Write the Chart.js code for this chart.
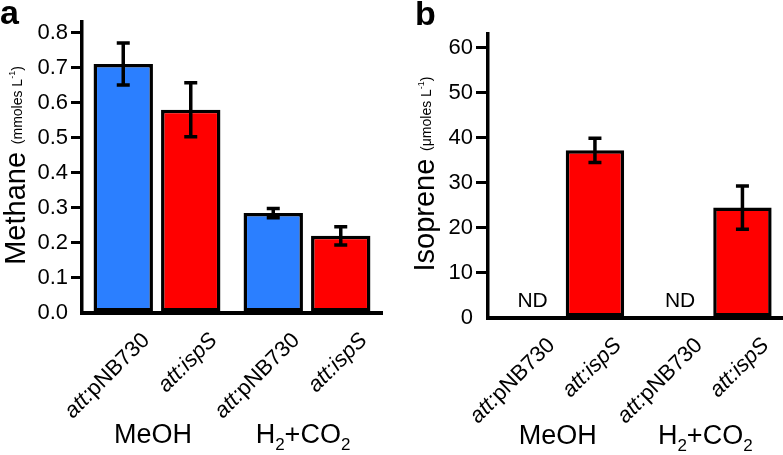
<!DOCTYPE html>
<html><head><meta charset="utf-8">
<script src="https://cdn.jsdelivr.net/npm/chart.js@4/dist/chart.umd.min.js"></script>
<style>
html,body{margin:0;padding:0;background:#fff;}
#wrap{position:relative;width:783px;height:455px;overflow:hidden;background:#fff;}
canvas{position:absolute;top:0;}
#ca{left:0;} #cb{left:390px;}
</style></head><body>
<div id="wrap"><canvas id="ca" width="390" height="455"></canvas><canvas id="cb" width="393" height="455"></canvas></div>
<script>
// ---- data ----
const groups = ['MeOH', 'H2+CO2'];
const strains = ['att:pNB730', 'att:ispS'];
const methaneCtrl = [0.71, 0.285];
const methaneCtrlErr = [0.06, 0.013];
const methaneIsp = [0.58, 0.22];
const methaneIspErr = [0.077, 0.026];
const isopreneCtrl = [0, 0];          // not detected
const isopreneCtrlND = [true, true];
const isopreneIsp = [37.2, 24.5];
const isopreneIspErr = [2.7, 4.8];
const methaneTicks = [0, 0.1, 0.2, 0.3, 0.4, 0.5, 0.6, 0.7, 0.8];
const isopreneTicks = [0, 10, 20, 30, 40, 50, 60];

const FONT = "'Liberation Sans', Arial, Helvetica, sans-serif";
const BLUE = '#2B7FFF', RED = '#FF0000';

function fontStr(s){ return (s.italic?'italic ':'') + (s.bold?'bold ':'') + s.size + 'px ' + FONT; }
function drawSegs(ctx, segs, align){
  let total = 0;
  segs.forEach(s => { ctx.font = fontStr(s); s.w = ctx.measureText(s.t).width; total += s.w; });
  let x = align === 'center' ? -total/2 : (align === 'right' ? -total : 0);
  ctx.textAlign = 'left';
  segs.forEach(s => { ctx.font = fontStr(s); ctx.fillText(s.t, x, s.dy || 0); x += s.w; });
}
function strainSegs(name, size){
  const [a, b] = name.split(':');
  return [{t: a + ':', italic: true, size}, {t: b, italic: b !== 'pNB730', size}];
}
function groupSegs(name, size, subSize){
  return name.split(/(\d)/).filter(p => p.length).map(p =>
    /\d/.test(p) ? {t: p, size: subSize, dy: 7} : {t: p, size});
}

function panelPlugin(cfg){
  return {
    id: 'panel' + cfg.letter,
    afterDatasetsDraw(chart){
      const ctx = chart.ctx, ys = chart.scales.y;
      ctx.save();
      ctx.strokeStyle = '#000'; ctx.fillStyle = '#000'; ctx.lineWidth = 3.5; ctx.lineCap = 'butt';
      chart.data.datasets.forEach((ds, di) => {
        const meta = chart.getDatasetMeta(di);
        meta.data.forEach((el, j) => {
          if (ds.err) {
            const v = ds.data[j], e = ds.err[j];
            const yt = ys.getPixelForValue(v + e), yb = ys.getPixelForValue(v - e);
            ctx.beginPath();
            ctx.moveTo(el.x, yt); ctx.lineTo(el.x, yb);
            ctx.moveTo(el.x - 6.5, yt); ctx.lineTo(el.x + 6.5, yt);
            ctx.moveTo(el.x - 6.5, yb); ctx.lineTo(el.x + 6.5, yb);
            ctx.stroke();
          }
          if (ds.nd && ds.nd[j]) {
            ctx.font = '21px ' + FONT; ctx.textAlign = 'center'; ctx.textBaseline = 'alphabetic';
            ctx.fillText('ND', el.x + 4, ys.getPixelForValue(0) - 11);
          }
        });
      });
      ctx.restore();
    },
    afterDraw(chart){
      const ctx = chart.ctx, xs = chart.scales.x, area = chart.chartArea;
      ctx.save();
      ctx.fillStyle = '#000';
      // rotated strain labels under each bar
      chart.data.datasets.forEach((ds, di) => {
        const meta = chart.getDatasetMeta(di);
        meta.data.forEach((el) => {
          ctx.save();
          ctx.translate(el.x + 23, area.bottom + 24);
          ctx.rotate(-Math.PI / 4);
          ctx.textBaseline = 'middle';
          drawSegs(ctx, strainSegs(ds.label, 22), 'right');
          ctx.restore();
        });
      });
      // group labels
      chart.data.labels.forEach((g, i) => {
        ctx.save();
        ctx.translate(xs.getPixelForValue(i) - 4, cfg.groupY);
        ctx.textBaseline = 'alphabetic';
        drawSegs(ctx, groupSegs(g, 27, 17), 'center');
        ctx.restore();
      });
      // y title
      ctx.save();
      ctx.translate(cfg.titleX, (area.top + area.bottom) / 2 - 2);
      ctx.rotate(-Math.PI / 2);
      ctx.textBaseline = 'alphabetic';
      drawSegs(ctx, [
        {t: cfg.title, size: 29},
        {t: '  ', size: 14},
        {t: '(' + cfg.unit + ' L', size: 14, dy: -3},
        {t: '-1', size: 9, dy: -10},
        {t: ')', size: 14, dy: -3}
      ], 'center');
      ctx.restore();
      // panel letter
      ctx.font = 'bold 34px ' + FONT; ctx.textAlign = 'left'; ctx.textBaseline = 'alphabetic';
      ctx.fillText(cfg.letter, cfg.letterX, cfg.letterY);
      ctx.restore();
    }
  };
}

function makeChart(id, cfg){
  return new Chart(document.getElementById(id), {
    type: 'bar',
    data: {
      labels: groups,
      datasets: [
        {label: strains[0], data: cfg.ctrl, err: cfg.ctrlErr, nd: cfg.ctrlND,
         backgroundColor: cfg.ctrlND ? 'rgba(0,0,0,0)' : BLUE, borderColor: '#000',
         borderWidth: cfg.ctrlND ? 0 : 3.5, borderSkipped: false,
         categoryPercentage: 0.9, barPercentage: 0.88},
        {label: strains[1], data: cfg.isp, err: cfg.ispErr,
         backgroundColor: RED, borderColor: '#000', borderWidth: 3.5, borderSkipped: false,
         categoryPercentage: 0.9, barPercentage: 0.88}
      ]
    },
    options: {
      responsive: false, animation: false, devicePixelRatio: 1,
      layout: {padding: {top: cfg.padTop, right: cfg.padRight, left: 0, bottom: 0}},
      plugins: {legend: {display: false}, tooltip: {enabled: false}},
      scales: {
        x: {
          offset: true,
          afterFit: s => { s.height = cfg.xHeight; },
          ticks: {display: false},
          grid: {display: false, drawTicks: false},
          border: {display: true, color: '#000', width: 4}
        },
        y: {
          min: 0, max: cfg.yMax,
          afterBuildTicks: s => { s.ticks = cfg.ticks.map(v => ({value: v})); },
          afterFit: s => { s.width = cfg.yWidth; },
          ticks: {color: '#000', font: {size: cfg.tickSize, family: FONT}, padding: 3,
                  callback: v => cfg.fmt(v)},
          grid: {drawOnChartArea: false, drawTicks: true, tickLength: cfg.tickLen, lineWidth: 3,
                 color: c => (c.tick && c.tick.value === 0) ? 'rgba(0,0,0,0)' : '#000'},
          border: {display: true, color: '#000', width: 3.5}
        }
      }
    },
    plugins: [panelPlugin(cfg)]
  });
}

makeChart('ca', {
  ctrl: methaneCtrl, ctrlErr: methaneCtrlErr, isp: methaneIsp, ispErr: methaneIspErr,
  ticks: methaneTicks, yMax: 0.83, fmt: v => v.toFixed(1), tickSize: 22, tickLen: 11,
  padTop: 22, padRight: 8, xHeight: 142, yWidth: 82,
  title: 'Methane', unit: 'mmoles', titleX: 25, groupY: 443,
  letter: 'a', letterX: 0, letterY: 24
});
makeChart('cb', {
  ctrl: isopreneCtrl, ctrlErr: null, ctrlND: isopreneCtrlND, isp: isopreneIsp, ispErr: isopreneIspErr,
  ticks: isopreneTicks, yMax: 63, fmt: v => String(v), tickSize: 22, tickLen: 12,
  padTop: 34, padRight: 0, xHeight: 137, yWidth: 98,
  title: 'Isoprene', unit: '\u03BCmoles', titleX: 44, groupY: 444,
  letter: 'b', letterX: 25, letterY: 25
});
</script>
</body></html>
